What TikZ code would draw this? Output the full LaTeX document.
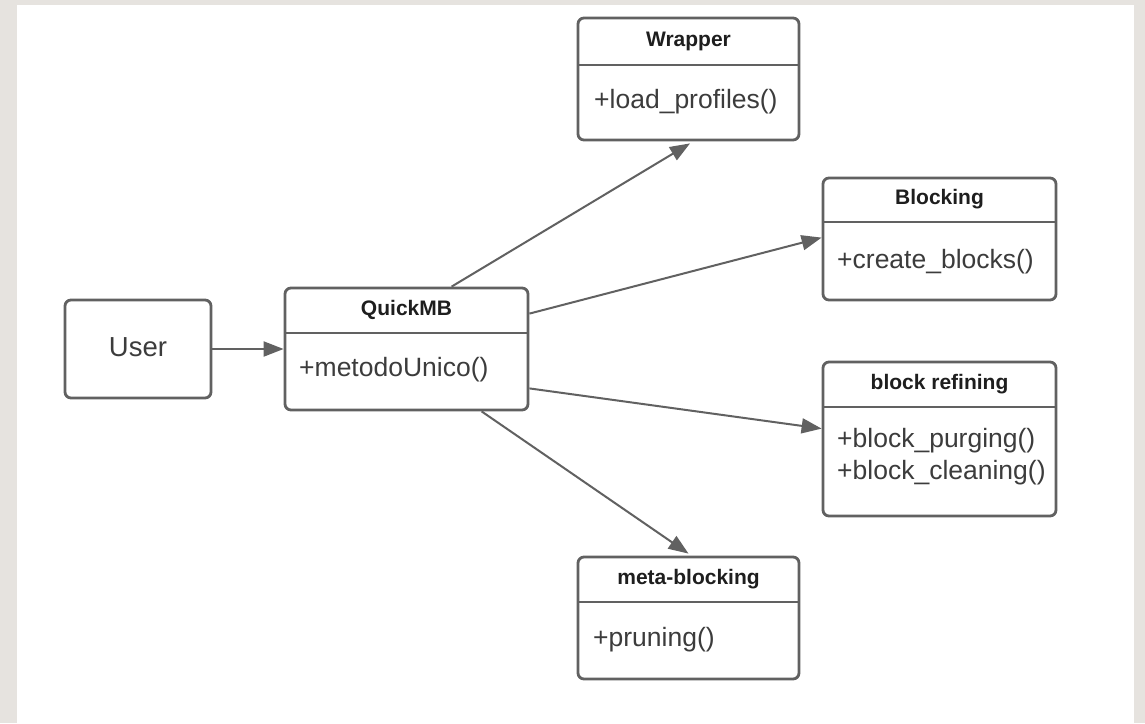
\documentclass[tikz,border=0pt]{standalone}
\usepackage{fontspec}
\setmainfont{Liberation Sans}
\usetikzlibrary{arrows.meta}
\definecolor{bggray}{HTML}{E6E3DF}
\definecolor{linegray}{HTML}{616161}
\definecolor{titlecol}{HTML}{1E1E1E}
\definecolor{bodycol}{HTML}{3C3C3C}
\tikzset{
  cls/.style={draw=linegray, line width=2.8pt, rounded corners=6pt, fill=white, inner sep=0pt},
  divider/.style={draw=linegray, line width=2.8pt},
  ttl/.style={font=\fontsize{21}{23}\selectfont\bfseries, text=titlecol, inner sep=0pt},
  bdy/.style={font=\fontsize{26.5}{32}\selectfont, text=bodycol, inner sep=0pt, anchor=west, align=left},
  conn/.style={draw=linegray, line width=2pt, -{Triangle[length=20pt,width=15pt]}},
}
\begin{document}
\begin{tikzpicture}[x=1pt,y=-1pt]
\useasboundingbox (0,0) rectangle (1145,723);
\fill[bggray] (0,0) rectangle (1145,723);
\fill[white] (17,5) rectangle (1134,723);

% User
\node[cls, minimum width=146pt, minimum height=98pt] (user) at (138,349) {};
\node[font=\fontsize{27.5}{31}\selectfont, text=bodycol, inner sep=0pt] (usert) at (138,347) {User};

% QuickMB
\node[cls, minimum width=243pt, minimum height=122pt] (qmb) at (406.5,349) {};
\coordinate (qmbdl) at (285,333); \coordinate (qmbdr) at (528,333);
\draw[divider] (qmbdl) -- (qmbdr);
\node[ttl] (qmbt) at (406.5,310) {QuickMB};
\node[bdy] (qmbb) at (299,370) {+metodoUnico()};

% Wrapper
\node[cls, minimum width=221pt, minimum height=122pt] (wrap) at (688.5,79) {};
\coordinate (wrapdl) at (578,65); \coordinate (wrapdr) at (799,65);
\draw[divider] (wrapdl) -- (wrapdr);
\node[ttl] (wrapt) at (688.5,41) {Wrapper};
\node[bdy] (wrapb) at (594,102) {+load\_profiles()};

% Blocking
\node[cls, minimum width=233pt, minimum height=122pt] (blk) at (939.5,239) {};
\coordinate (blkdl) at (823,222); \coordinate (blkdr) at (1056,222);
\draw[divider] (blkdl) -- (blkdr);
\node[ttl] (blkt) at (939.5,199) {Blocking};
\node[bdy] (blkb) at (837,262) {+create\_blocks()};

% block refining
\node[cls, minimum width=233pt, minimum height=154pt] (ref) at (939.5,439) {};
\coordinate (refdl) at (823,407); \coordinate (refdr) at (1056,407);
\draw[divider] (refdl) -- (refdr);
\node[ttl] (reft) at (939.5,384) {block refining};
\node[bdy] (refb) at (837,457) {+block\_purging()\\+block\_cleaning()};

% meta-blocking
\node[cls, minimum width=221pt, minimum height=122pt] (meta) at (688.5,618) {};
\coordinate (metadl) at (578,602); \coordinate (metadr) at (799,602);
\draw[divider] (metadl) -- (metadr);
\node[ttl] (metat) at (688.5,579) {meta-blocking};
\node[bdy] (metab) at (593,640) {+pruning()};

% connectors
\draw[conn] (user.east) -- (qmb.west);
\draw[conn] ([xshift=168pt]qmb.north west) -- ([xshift=1.5pt,yshift=-2pt]wrap.south);
\draw[conn] ([yshift=-27pt]qmb.north east) -- ([yshift=-61pt]blk.north west);
\draw[conn] ([yshift=23pt]qmb.south east) -- ([yshift=-68pt]ref.north west);
\draw[conn] ([xshift=198pt]qmb.south west) -- ([yshift=2pt]meta.north);
\end{tikzpicture}
\end{document}
